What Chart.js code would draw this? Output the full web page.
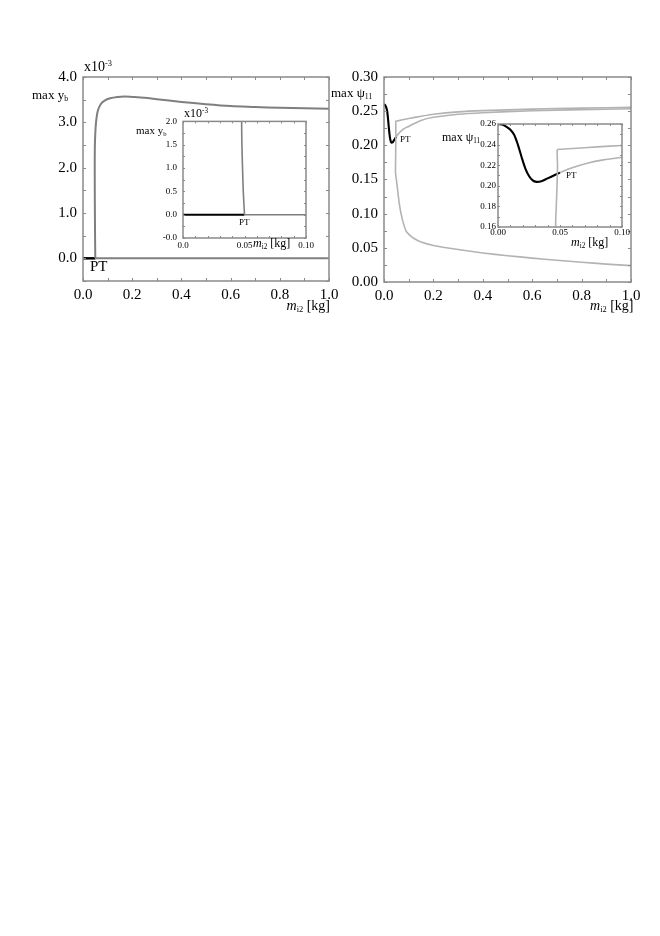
<!DOCTYPE html>
<html>
<head>
<meta charset="utf-8">
<script src="https://cdn.jsdelivr.net/npm/chart.js@4.4.1/dist/chart.umd.min.js"></script>
<style>
  body { margin: 0; background: #fff; }
  #wrap { position: relative; width: 660px; height: 936px; background: #fff; font-family: "Liberation Serif", serif; color: #000; }
  canvas { position: absolute; }
  .t { position: absolute; white-space: nowrap; line-height: 1; }
  .t sub, .t sup { font-size: 60%; }
  .t sub { vertical-align: -0.25em; }
  .t sup { vertical-align: 0.55em; }
</style>
</head>
<body>
<div id="wrap">
  <canvas id="mainL" width="345" height="270" style="left:0;top:50px"></canvas>
  <canvas id="mainR" width="315" height="270" style="left:345px;top:50px"></canvas>
  <canvas id="insetL" width="165" height="145" style="left:160px;top:110px"></canvas>
  <canvas id="insetR" width="172" height="132" style="left:468px;top:114px"></canvas>

  <div class="t" style="left:84px;top:60px;font-size:14px">x10<sup>-3</sup></div>
  <div class="t" style="left:32px;top:88px;font-size:13px">max y<sub>b</sub></div>
  <div class="t" style="left:90px;top:259px;font-size:15px">PT</div>
  <div class="t" style="right:330px;top:299px;font-size:14px"><i>m</i><sub>i2</sub> [kg]</div>

  <div class="t" style="left:184px;top:107px;font-size:12px">x10<sup>-3</sup></div>
  <div class="t" style="left:136px;top:125px;font-size:11px">max y<sub>b</sub></div>
  <div class="t" style="left:239px;top:218px;font-size:9px">PT</div>
  <div class="t" style="left:253px;top:237px;font-size:12px"><i>m</i><sub>i2</sub> [kg]</div>

  <div class="t" style="left:331px;top:86px;font-size:13px">max &psi;<sub>11</sub></div>
  <div class="t" style="left:400px;top:135px;font-size:9px">PT</div>
  <div class="t" style="left:590px;top:299px;font-size:14px"><i>m</i><sub>i2</sub> [kg]</div>

  <div class="t" style="left:442px;top:131px;font-size:12px">max &psi;<sub>11</sub></div>
  <div class="t" style="left:566px;top:171px;font-size:9px">PT</div>
  <div class="t" style="left:571px;top:236px;font-size:12px"><i>m</i><sub>i2</sub> [kg]</div>
</div>
<script>
// left panel: max y_b (x1e-3) vs m_i2
const stableLX = [0, 0.05];
const stableLY = [0, 0];
const zeroLX = [0.05, 1.0];
const zeroLY = [0, 0];
const riseLX = [0.0500, 0.0490, 0.0484, 0.0479, 0.0477, 0.0480, 0.0495, 0.0530, 0.0600, 0.0720, 0.0880, 0.1100, 0.1400, 0.1700, 0.2000, 0.2500, 0.3000, 0.4000, 0.5000, 0.6000, 0.7000, 0.8000, 0.9000, 1.0000];
const riseLY = [0.00, 0.50, 1.00, 1.50, 2.00, 2.40, 2.70, 3.00, 3.25, 3.40, 3.48, 3.53, 3.56, 3.57, 3.56, 3.54, 3.51, 3.45, 3.40, 3.36, 3.34, 3.32, 3.31, 3.30];

// right panel: max psi_11 vs m_i2
const stableRX = [0, 0.004, 0.007, 0.010, 0.013, 0.016, 0.019, 0.022, 0.025, 0.028, 0.031, 0.035, 0.040, 0.045, 0.050];
const stableRY = [0.2600, 0.2592, 0.2572, 0.2545, 0.2495, 0.2400, 0.2280, 0.2170, 0.2095, 0.2052, 0.2038, 0.2045, 0.2072, 0.2100, 0.2128];
const branchRX = [0.050, 0.058, 0.072, 0.085, 0.100, 0.150, 0.200, 0.300, 0.400, 0.600, 0.800, 1.000];
const branchRY = [0.2128, 0.2168, 0.2219, 0.2252, 0.2277, 0.2365, 0.2410, 0.2455, 0.2477, 0.2506, 0.2522, 0.2535];
const foldRX = [1.0, 0.9, 0.8, 0.7, 0.6, 0.5, 0.4, 0.3, 0.2, 0.15, 0.12, 0.104, 0.09, 0.077, 0.068, 0.061, 0.055, 0.050, 0.0466, 0.0470, 0.0476, 0.0480, 0.0478, 0.050, 0.060, 0.080, 0.100, 0.150, 0.200, 0.300, 0.400, 0.600, 0.800, 1.000];
const foldRY = [0.0240, 0.0262, 0.0290, 0.0318, 0.0350, 0.0385, 0.0425, 0.0475, 0.0535, 0.0585, 0.0640, 0.0685, 0.0740, 0.0880, 0.1020, 0.1170, 0.1350, 0.1500, 0.1600, 0.1800, 0.2000, 0.2200, 0.2350, 0.2355, 0.2362, 0.2378, 0.2392, 0.2425, 0.2455, 0.2490, 0.2508, 0.2530, 0.2545, 0.2555];

// tick values and labels
const mainLYTicks = [0, 1, 2, 3, 4];
const mainLYLabels = ['0.0', '1.0', '2.0', '3.0', '4.0'];
const mainXTicks = [0, 0.2, 0.4, 0.6, 0.8, 1.0];
const mainXLabels = ['0.0', '0.2', '0.4', '0.6', '0.8', '1.0'];
const insetLYTicks = [-0.5, 0, 0.5, 1.0, 1.5, 2.0];
const insetLYLabels = ['-0.0', '0.0', '0.5', '1.0', '1.5', '2.0'];
const insetXTicks = [0, 0.05, 0.10];
const insetLXLabels = ['0.0', '0.05', '0.10'];
const insetRXLabels = ['0.00', '0.05', '0.10'];
const mainRYTicks = [0, 0.05, 0.10, 0.15, 0.20, 0.25, 0.30];
const mainRYLabels = ['0.00', '0.05', '0.10', '0.15', '0.20', '0.25', '0.30'];
const insetRYTicks = [0.16, 0.18, 0.20, 0.22, 0.24, 0.26];
const insetRYLabels = ['0.16', '0.18', '0.20', '0.22', '0.24', '0.26'];

const pts = (xs, ys) => xs.map((x, i) => ({ x: x, y: ys[i] }));

// white box, frame and inward tick marks
const frame = {
  id: 'frame',
  beforeDatasetsDraw(chart) {
    const a = chart.chartArea, ctx = chart.ctx;
    ctx.save();
    ctx.fillStyle = '#fff';
    ctx.fillRect(a.left, a.top, a.right - a.left, a.bottom - a.top);
    ctx.restore();
  },
  afterDatasetsDraw(chart, args, o) {
    const { ctx, chartArea: a, scales } = chart;
    const L = o.len;
    ctx.save();
    ctx.strokeStyle = '#8a8a8a';
    ctx.lineWidth = 1;
    ctx.beginPath();
    const xs = scales.x, ys = scales.y;
    for (let i = 0; ; i++) {
      const v = xs.min + i * o.xStep;
      if (v > xs.max + 1e-9) break;
      const p = Math.round(xs.getPixelForValue(v)) + 0.5;
      ctx.moveTo(p, a.bottom); ctx.lineTo(p, a.bottom - L);
      ctx.moveTo(p, a.top); ctx.lineTo(p, a.top + L);
    }
    for (let i = 0; ; i++) {
      const v = ys.min + i * o.yStep;
      if (v > ys.max + 1e-9) break;
      const p = Math.round(ys.getPixelForValue(v)) + 0.5;
      ctx.moveTo(a.left, p); ctx.lineTo(a.left + L, p);
      ctx.moveTo(a.right, p); ctx.lineTo(a.right - L, p);
    }
    ctx.stroke();
    ctx.lineWidth = 1.5;
    ctx.strokeRect(a.left, a.top, a.right - a.left, a.bottom - a.top);
    ctx.restore();
  }
};

function makeChart(id, datasets, c) {
  return new Chart(document.getElementById(id), {
    type: 'scatter',
    data: { datasets: datasets },
    options: {
      responsive: false,
      animation: false,
      events: [],
      layout: { padding: c.pad },
      plugins: { legend: { display: false }, tooltip: { enabled: false }, frame: { len: c.len, xStep: c.xStep, yStep: c.yStep } },
      elements: { point: { radius: 0 } },
      scales: {
        x: {
          type: 'linear', min: c.xMin, max: c.xMax,
          grid: { display: false, drawTicks: false },
          border: { display: false },
          afterBuildTicks: s => { s.ticks = c.xTicks.map(v => ({ value: v })); },
          afterFit: s => { s.height = c.xH; },
          ticks: {
            autoSkip: false, maxRotation: 0, padding: c.xPad, color: '#000',
            font: { family: 'Liberation Serif', size: c.font },
            callback: (v, i) => c.xLabels[i]
          }
        },
        y: {
          type: 'linear', min: c.yMin, max: c.yMax,
          grid: { display: false, drawTicks: false },
          border: { display: false },
          afterBuildTicks: s => { s.ticks = c.yTicks.map(v => ({ value: v })); },
          afterFit: s => { s.width = c.yW; },
          ticks: {
            autoSkip: false, padding: c.yPad, color: '#000',
            font: { family: 'Liberation Serif', size: c.font },
            callback: (v, i) => c.yLabels[i]
          }
        }
      }
    },
    plugins: [frame]
  });
}

function leftSets(w) {
  return [
    { data: pts(zeroLX, zeroLY), showLine: true, borderColor: '#7f7f7f', borderWidth: w, tension: 0 },
    { data: pts(riseLX, riseLY), showLine: true, borderColor: '#7f7f7f', borderWidth: w, tension: 0.3 },
    { data: pts(stableLX, stableLY), showLine: true, borderColor: '#000', borderWidth: w + 0.5, tension: 0 }
  ];
}
function rightSets(w) {
  return [
    { data: pts(foldRX, foldRY), showLine: true, borderColor: '#b3b3b3', borderWidth: w, tension: 0.2 },
    { data: pts(branchRX, branchRY), showLine: true, borderColor: '#b3b3b3', borderWidth: w, tension: 0.3 },
    { data: pts(stableRX, stableRY), showLine: true, borderColor: '#000', borderWidth: w + 0.5, tension: 0.3 }
  ];
}

makeChart('mainL', leftSets(2), {
  pad: { left: 0, right: 16, top: 27, bottom: 14 }, xH: 25, yW: 83, xPad: 5, yPad: 6, font: 15,
  xMin: 0, xMax: 1, yMin: -0.5, yMax: 4,
  xTicks: mainXTicks, xLabels: mainXLabels, yTicks: mainLYTicks, yLabels: mainLYLabels,
  len: 3, xStep: 0.1, yStep: 0.5
});
makeChart('mainR', rightSets(1.6), {
  pad: { left: 0, right: 29, top: 27, bottom: 13 }, xH: 25, yW: 39, xPad: 5, yPad: 6, font: 15,
  xMin: 0, xMax: 1, yMin: 0, yMax: 0.30,
  xTicks: mainXTicks, xLabels: mainXLabels, yTicks: mainRYTicks, yLabels: mainRYLabels,
  len: 3, xStep: 0.1, yStep: 0.025
});
makeChart('insetL', leftSets(1.6), {
  pad: { left: 0, right: 19, top: 11, bottom: 3 }, xH: 14, yW: 23, xPad: 2, yPad: 6, font: 9,
  xMin: 0, xMax: 0.1, yMin: -0.5, yMax: 2,
  xTicks: insetXTicks, xLabels: insetLXLabels, yTicks: insetLYTicks, yLabels: insetLYLabels,
  len: 2, xStep: 0.01, yStep: 0.25
});
makeChart('insetR', rightSets(1.6), {
  pad: { left: 0, right: 18, top: 10, bottom: 5 }, xH: 14, yW: 30, xPad: 0, yPad: 2, font: 9,
  xMin: 0, xMax: 0.1, yMin: 0.16, yMax: 0.26,
  xTicks: insetXTicks, xLabels: insetRXLabels, yTicks: insetRYTicks, yLabels: insetRYLabels,
  len: 2, xStep: 0.01, yStep: 0.01
});
</script>
</body>
</html>
